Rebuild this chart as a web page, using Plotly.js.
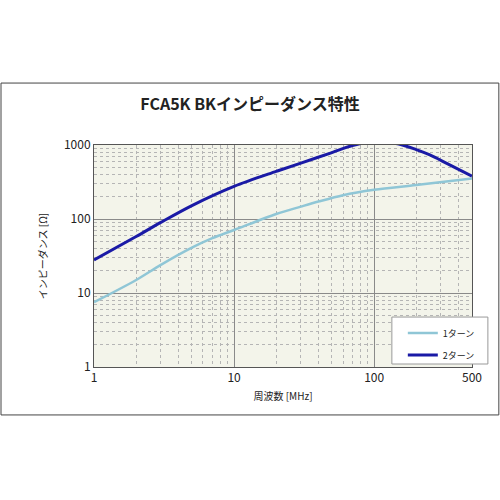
<!DOCTYPE html>
<html>
<head>
<meta charset="utf-8">
<script src="https://cdn.plot.ly/plotly-3.0.1.min.js"></script>
<style>
  html, body { margin: 0; padding: 0; background: #fff; }
  #chart { width: 500px; height: 500px; }
</style>
</head>
<body>
<div id="chart"></div>
<script>
// frequency [MHz] and impedance [Ohm]
var freq1 = [1, 2, 3, 5, 7, 10, 20, 30, 40, 60, 100, 200, 500];
var imp1  = [7.5, 15, 24, 41, 55, 71, 117, 147, 172, 210, 248, 288, 353];

var freq2 = [1, 2, 3, 5, 10, 20, 30, 50, 70, 100, 150, 200, 250, 330, 500];
var imp2  = [28, 58, 90, 152, 276, 440, 570, 790, 985, 1110, 1030, 865, 733, 565, 380];

var seriesNames = ['1ターン', '2ターン'];
var xTicks = [1, 10, 100, 500];
var yTicks = [1, 10, 100, 1000];

var font = '"Noto Sans CJK JP", "Noto Sans", sans-serif';

var trace1 = {
  x: freq1,
  y: imp1,
  name: seriesNames[0],
  legendgroup: 'a',
  type: 'scatter',
  mode: 'lines',
  line: {color: '#8fc6d6', width: 2.5, shape: 'spline', smoothing: 0.9}
};

var trace2 = {
  x: freq2,
  y: imp2,
  name: seriesNames[1],
  legendgroup: 'b',
  type: 'scatter',
  mode: 'lines',
  line: {color: '#1a1aa6', width: 3, shape: 'spline', smoothing: 0.9}
};

var layout = {
  width: 500,
  height: 500,
  margin: {l: 94, r: 28, t: 145, b: 133},
  paper_bgcolor: '#ffffff',
  plot_bgcolor: '#f3f4ea',
  font: {family: font, size: 11, color: '#222'},
  title: {
    text: '<b>FCA5K BKインピーダンス特性</b>',
    font: {family: font, size: 16, color: '#222'},
    x: 0.5, xanchor: 'center',
    y: 0.792, yanchor: 'middle'
  },
  xaxis: {
    type: 'log',
    range: [0, Math.log10(500)],
    tickvals: xTicks,
    ticktext: xTicks.map(String),
    ticks: '',
    showgrid: true,
    gridcolor: '#8a8a8a',
    gridwidth: 1,
    minor: {dtick: 'D1', showgrid: true, gridcolor: '#b5b5b5', griddash: 'dot', gridwidth: 1},
    showline: true, linecolor: '#555', linewidth: 1, mirror: true,
    zeroline: false,
    tickfont: {size: 12},
    title: {text: '周波数 [MHz]', font: {size: 10}, standoff: 8}
  },
  yaxis: {
    type: 'log',
    range: [0, 3],
    tickvals: yTicks,
    ticktext: yTicks.map(String),
    ticks: '',
    showgrid: true,
    gridcolor: '#8a8a8a',
    gridwidth: 1,
    minor: {dtick: 'D1', showgrid: true, gridcolor: '#b5b5b5', griddash: 'dot', gridwidth: 1},
    showline: true, linecolor: '#555', linewidth: 1, mirror: true,
    zeroline: false,
    tickfont: {size: 12},
    title: {text: 'インピーダンス [Ω]', font: {size: 10}, standoff: 14}
  },
  legend: {
    x: 0.817, xanchor: 'left',
    y: 0.218, yanchor: 'top',
    bgcolor: 'rgba(0,0,0,0)',
    borderwidth: 0,
    font: {size: 9},
    tracegroupgap: 3
  },
  shapes: [
    {
      type: 'rect', xref: 'paper', yref: 'paper',
      x0: -0.246, x1: 1.071, y0: -0.216, y1: 1.279,
      line: {color: '#444', width: 1}
    },
    {
      type: 'rect', xref: 'paper', yref: 'paper', layer: 'above',
      x0: 0.788, x1: 1.042, y0: 0.0135, y1: 0.225,
      fillcolor: '#ffffff',
      line: {color: '#999', width: 1}
    }
  ],
  showlegend: true
};

Plotly.newPlot('chart', [trace1, trace2], layout, {displayModeBar: false, staticPlot: true});
</script>
</body>
</html>
